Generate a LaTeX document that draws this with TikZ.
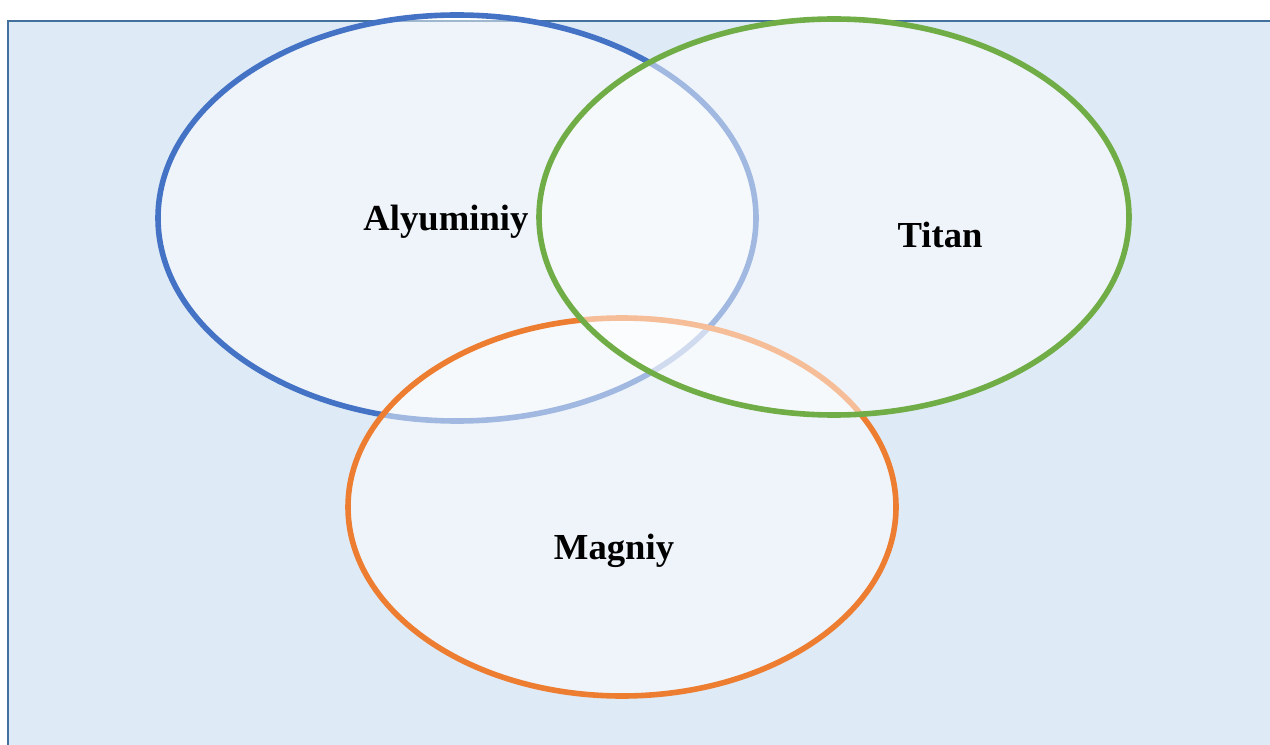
\documentclass[tikz,border=0pt]{standalone}
\usepackage{fontspec}
\setmainfont{Liberation Serif}
\definecolor{bgfill}{HTML}{DEEAF6}
\definecolor{bgline}{HTML}{41719C}
\definecolor{cblue}{HTML}{4472C4}
\definecolor{cgreen}{HTML}{70AD47}
\definecolor{corange}{HTML}{ED7D31}
\begin{document}
\begin{tikzpicture}[x=0.75pt,y=-0.75pt,
  setring/.style={draw=#1, line width=4.2pt, fill=white, fill opacity=0.5},
  setlabel/.style={font=\fontsize{27.5}{30}\selectfont\bfseries, text=black}]
\useasboundingbox (0,0) rectangle (1270,745);
\begin{scope}
\clip (0,0) rectangle (1270,745);
\draw[bgline, line width=1.7pt, fill=bgfill] (8,21) rectangle (1290,770);
\end{scope}
\draw[setring=cblue] (457,218) ellipse [x radius=299, y radius=203];
\draw[setring=corange] (622,507) ellipse [x radius=274, y radius=189];
\draw[setring=cgreen] (834,217) ellipse [x radius=295, y radius=198];
\node[setlabel] (alu) at (446,222) {Alyuminiy};
\node[setlabel] (tit) at (940,235) {Titan};
\node[setlabel] (mag) at (614,551) {Magniy};
\end{tikzpicture}
\end{document}
